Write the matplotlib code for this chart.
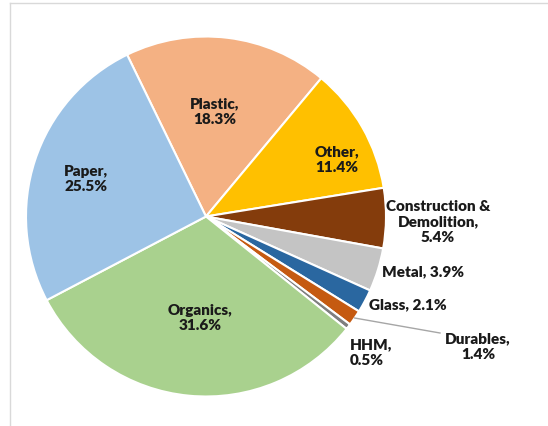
import matplotlib.pyplot as plt
import numpy as np

# --------------------- Data --------------------- #
materials = ['Plastic', 'Other', 'Construction &\nDemolition', 'Metal', 'Glass',
             'Durables', 'HHM', 'Organics', 'Paper']
shares = [18.3, 11.4, 5.4, 3.9, 2.1, 1.4, 0.5, 31.6, 25.5]
colors = ['#F4B183', '#FFC000', '#843C0C', '#C4C4C4', '#2A67A0',
          '#C55A11', '#7F7F7F', '#A9D18E', '#9DC3E6']

# label text layout (pixel positions, image y measured from top)
label_pos = {
    'Plastic': (215, 112, 'center'),
    'Other': (337, 160, 'center'),
    'Construction &\nDemolition': (438, 222, 'center'),
    'Metal': (382, 272, 'left'),
    'Glass': (369, 305, 'left'),
    'Durables': (478, 347, 'center'),
    'HHM': (350, 353, 'left'),
    'Organics': (200, 318, 'center'),
    'Paper': (86, 179, 'center'),
}
one_line = {'Metal', 'Glass'}

W, H = 548, 427
cx, cy, R = 206, 217.5, 180

fig = plt.figure(figsize=(W / 100, H / 100), dpi=100)
ax = fig.add_axes([0, 0, 1, 1])

# light frame on left and top
ax.plot([10, 10], [0, H - 4], color='#D9D9D9', lw=1)
ax.plot([10, W], [H - 4, H - 4], color='#D9D9D9', lw=1)

wedges, _ = ax.pie(shares, colors=colors, startangle=116, counterclock=False,
                   center=(cx, H - cy), radius=R, frame=True,
                   wedgeprops=dict(edgecolor='white', linewidth=1.5))
ax.set_xlim(0, W)
ax.set_ylim(0, H)
ax.set_aspect('equal')
ax.axis('off')

for name, val, w in zip(materials, shares, wedges):
    x, y, ha = label_pos[name]
    sep = ', ' if name in one_line else ',\n'
    ax.text(x, H - y, f'{name}{sep}{val}%', ha=ha, va='center',
            fontsize=11, fontweight='heavy', family='Lato',
            color='#1A1A1A', linespacing=1.25)

# leader line for Durables
w = wedges[materials.index('Durables')]
mid = np.deg2rad((w.theta1 + w.theta2) / 2)
ex, ey = cx + R * np.cos(mid), (H - cy) + R * np.sin(mid)
ax.plot([ex, 440], [ey, H - 334], color='#A6A6A6', lw=1)

fig.savefig('out.png', dpi=100)
